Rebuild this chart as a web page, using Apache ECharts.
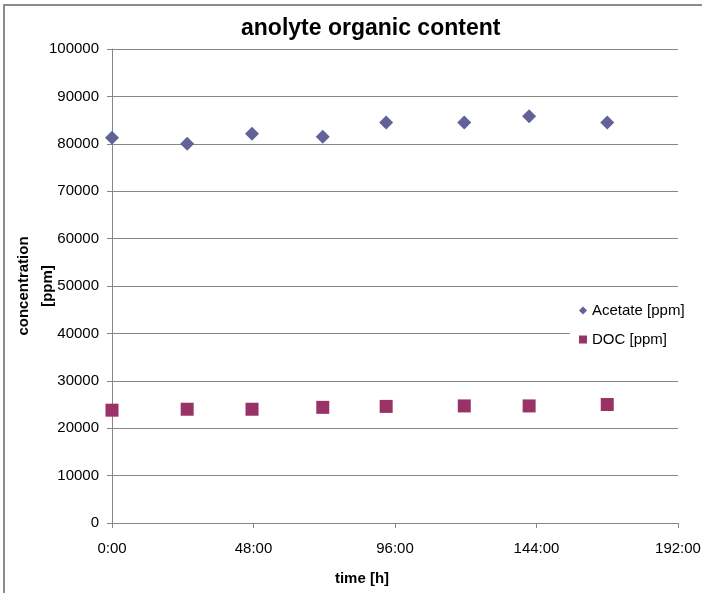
<!DOCTYPE html>
<html>
<head>
<meta charset="utf-8">
<script src="https://cdn.jsdelivr.net/npm/echarts@6/dist/echarts.min.js"></script>
<style>
  html, body { margin: 0; padding: 0; background: #fff; }
  #chart { width: 702px; height: 593px; }
</style>
</head>
<body>
<div id="chart"></div>
<script>
// Sampling times in hours since start
const timeHours = [0, 25.5, 47.5, 71.5, 93, 119.5, 141.5, 168];
// Measured concentrations [ppm]
const acetatePpm = [81300, 80000, 82100, 81500, 84500, 84500, 85800, 84500];
const docPpm = [23800, 24000, 24000, 24400, 24600, 24700, 24700, 25000];
const seriesNames = ['Acetate [ppm]', 'DOC [ppm]'];

const FONT = '"Liberation Sans", Arial, sans-serif';
const GRID_GRAY = '#868686';

const chart = echarts.init(document.getElementById('chart'), null, { renderer: 'canvas' });

const pairs = (xs, ys) => xs.map((x, i) => [x, ys[i]]);

chart.setOption({
  animation: false,
  backgroundColor: '#ffffff',
  title: {
    text: 'anolyte organic content',
    left: 236,
    top: 12,
    textStyle: { fontFamily: FONT, fontSize: 23, fontWeight: 'bold', color: '#000' }
  },
  graphic: [{
    type: 'rect',
    shape: { x: 4, y: 5, width: 720, height: 620 },
    style: { fill: 'none', stroke: '#8c8c8c', lineWidth: 2 },
    silent: true,
    z: 100
  }],
  legend: {
    orient: 'vertical',
    left: 570,
    top: 295,
    padding: [8, 40, 8, 9],
    itemWidth: 8,
    itemHeight: 8,
    itemGap: 14,
    backgroundColor: '#ffffff',
    textStyle: { fontFamily: FONT, fontSize: 15, color: '#000' },
    data: [
      { name: seriesNames[0], icon: 'diamond' },
      { name: seriesNames[1], icon: 'rect' }
    ]
  },
  grid: { left: 112, right: 24, top: 49, bottom: 70, containLabel: false, outerBoundsMode: 'none' },
  xAxis: {
    type: 'value',
    min: 0,
    max: 192,
    interval: 48,
    name: 'time [h]',
    nameLocation: 'middle',
    nameGap: 48,
    nameMoveOverlap: false,
    nameTextStyle: { fontFamily: FONT, fontSize: 15, fontWeight: 'bold', color: '#000', padding: [0, 66, 0, 0] },
    axisLine: { lineStyle: { color: GRID_GRAY, width: 1 } },
    axisTick: { show: true, length: 5, lineStyle: { color: GRID_GRAY } },
    axisLabel: { margin: 18, fontFamily: FONT, fontSize: 15, color: '#000', formatter: v => v + ':00' },
    splitLine: { show: false }
  },
  yAxis: {
    type: 'value',
    min: 0,
    max: 100000,
    interval: 10000,
    name: 'concentration\n[ppm]',
    nameLocation: 'middle',
    nameRotate: 90,
    nameGap: 52,
    nameMoveOverlap: false,
    nameTextStyle: { fontFamily: FONT, fontSize: 15, fontWeight: 'bold', color: '#000', lineHeight: 24 },
    axisLine: { show: true, lineStyle: { color: GRID_GRAY, width: 1 } },
    axisTick: { show: true, length: 5, lineStyle: { color: GRID_GRAY } },
    axisLabel: { margin: 13, fontFamily: FONT, fontSize: 15, color: '#000', formatter: v => String(v) },
    splitLine: { show: true, lineStyle: { color: GRID_GRAY, width: 1 } }
  },
  series: [
    {
      name: seriesNames[0],
      type: 'scatter',
      symbol: 'diamond',
      symbolSize: 14,
      itemStyle: { color: '#626298', opacity: 1 },
      data: pairs(timeHours, acetatePpm)
    },
    {
      name: seriesNames[1],
      type: 'scatter',
      symbol: 'rect',
      symbolSize: 13,
      itemStyle: { color: '#993366', opacity: 1 },
      data: pairs(timeHours, docPpm)
    }
  ]
});
</script>
</body>
</html>
